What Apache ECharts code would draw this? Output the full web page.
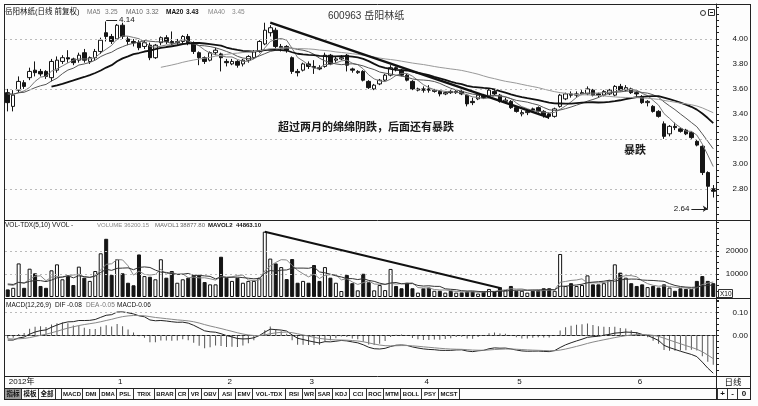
<!DOCTYPE html>
<html><head><meta charset="utf-8">
<script src="https://cdn.jsdelivr.net/npm/echarts/dist/echarts.min.js"></script>
<style>html,body{margin:0;padding:0;background:#fff}#c{width:758px;height:406px}</style>
</head><body><div id="c"></div>
<script>
// ---------- data ----------
const opens = [3.57,3.46,3.59,3.65,3.69,3.75,3.74,3.74,3.69,3.75, 3.82,3.85,3.84,3.83,3.89,3.82,3.85,3.90,4.05,4.02,
 4.00,4.11,4.00,3.98,3.97,3.94,3.95,3.85,3.97,4.01, 3.98,3.97,3.98,4.02,3.97,3.89,3.85,3.83,3.89,3.88,
 3.82,3.80,3.82,3.80,3.83,3.85,3.90,3.96,4.05,4.07, 3.93,3.94,3.85,3.74,3.75,3.80,3.78,3.77,3.78,3.87,
 3.83,3.84,3.87,3.76,3.73,3.74,3.66,3.60,3.64,3.67, 3.71,3.77,3.75,3.71,3.66,3.59,3.60,3.60,3.58,3.58,
 3.56,3.58,3.57,3.58,3.55,3.50,3.52,3.55,3.54,3.58, 3.55,3.50,3.50,3.45,3.40,3.41,3.44,3.45,3.42,3.40,
 3.38,3.46,3.52,3.56,3.55,3.56,3.56,3.59,3.56,3.55, 3.56,3.55,3.62,3.59,3.60,3.57,3.54,3.49,3.46,3.42,
 3.32,3.24,3.30,3.28,3.27,3.25,3.18,3.14,2.93,2.80];
const closes = [3.49,3.55,3.66,3.62,3.74,3.73,3.72,3.70,3.82,3.83, 3.85,3.84,3.81,3.87,3.83,3.85,3.90,3.99,4.02,3.98,
 4.11,4.02,3.98,3.97,3.93,3.97,3.85,3.95,4.01,3.98, 3.97,3.98,4.02,3.97,3.90,3.85,3.82,3.89,3.91,3.85,
 3.81,3.82,3.79,3.83,3.86,3.90,3.98,4.07,4.09,3.94, 3.94,3.91,3.74,3.73,3.80,3.78,3.77,3.76,3.87,3.80,
 3.84,3.85,3.79,3.75,3.74,3.67,3.61,3.63,3.67,3.71, 3.77,3.76,3.71,3.67,3.60,3.60,3.59,3.59,3.59,3.56,
 3.57,3.57,3.58,3.56,3.48,3.49,3.55,3.53,3.59,3.56, 3.50,3.51,3.45,3.42,3.41,3.42,3.43,3.42,3.39,3.38,
 3.44,3.55,3.56,3.55,3.56,3.57,3.60,3.55,3.55,3.58, 3.59,3.62,3.59,3.61,3.57,3.56,3.49,3.50,3.42,3.38,
 3.22,3.30,3.29,3.26,3.24,3.21,3.15,2.93,2.82,2.78];
const lows = [3.42,3.42,3.57,3.60,3.67,3.70,3.70,3.68,3.66,3.73, 3.80,3.81,3.79,3.81,3.81,3.80,3.83,3.88,3.98,3.96,
 3.99,4.00,3.95,3.94,3.91,3.92,3.83,3.84,3.95,3.96, 3.95,3.95,3.96,3.95,3.88,3.79,3.80,3.82,3.87,3.74,
 3.78,3.79,3.77,3.78,3.81,3.84,3.89,3.95,4.02,3.92, 3.90,3.89,3.72,3.70,3.74,3.76,3.72,3.75,3.77,3.79,
 3.81,3.83,3.74,3.73,3.72,3.66,3.60,3.59,3.63,3.66, 3.70,3.74,3.70,3.66,3.59,3.58,3.57,3.57,3.57,3.54,
 3.55,3.56,3.56,3.55,3.46,3.47,3.51,3.52,3.53,3.55, 3.49,3.48,3.44,3.41,3.38,3.39,3.41,3.41,3.37,3.36,
 3.37,3.45,3.51,3.53,3.53,3.55,3.55,3.54,3.53,3.54, 3.55,3.54,3.58,3.58,3.56,3.54,3.48,3.46,3.41,3.37,
 3.20,3.22,3.27,3.25,3.23,3.20,3.14,2.91,2.64,2.73];
const highs = [3.60,3.59,3.70,3.67,3.77,3.82,3.76,3.75,3.84,3.86, 3.87,3.91,3.85,3.89,3.92,3.86,3.92,4.01,4.14,4.04,
 4.12,4.13,4.02,4.00,3.99,3.99,3.97,3.96,4.02,4.03, 4.06,4.00,4.03,4.04,3.98,3.90,3.86,3.90,3.93,3.89,
 3.84,3.84,3.83,3.84,3.87,3.91,3.99,4.13,4.11,4.09, 3.96,3.95,3.86,3.76,3.81,3.82,3.83,3.79,3.89,3.88,
 3.86,3.87,3.88,3.77,3.75,3.75,3.67,3.64,3.68,3.72, 3.79,3.78,3.76,3.72,3.67,3.61,3.62,3.63,3.60,3.59,
 3.58,3.59,3.59,3.59,3.56,3.53,3.56,3.56,3.60,3.59, 3.56,3.53,3.51,3.46,3.43,3.43,3.45,3.46,3.43,3.41,
 3.45,3.56,3.57,3.58,3.58,3.59,3.62,3.60,3.57,3.59, 3.60,3.63,3.64,3.63,3.61,3.58,3.55,3.51,3.47,3.43,
 3.34,3.31,3.33,3.29,3.28,3.26,3.19,3.15,2.94,2.83];
const volumes = [3300,4000,14600,4000,12300,10300,4800,4000,11600,14200, 7700,9100,5200,13200,8400,7000,11300,19000,25300,9600,
 16400,10300,6200,5100,18500,9100,8800,7700,16400,8400, 11300,6200,7700,8400,9600,9600,6500,5500,5500,17500,
 8400,7000,8400,6200,7000,7000,8400,28400,16700,14600, 13000,7800,16500,6200,7000,6200,13900,7000,13000,8400,
 6200,2600,9600,6000,2900,10100,6400,2900,5200,3000, 12200,4800,3800,6200,3800,1900,3800,4100,2700,2700,
 1900,2700,1900,2000,2400,2400,1500,2400,3500,2400, 4300,3000,4800,2700,2700,1900,2700,3000,3800,3800,
 2700,18700,4800,6000,4800,5200,9400,5500,5500,6000, 7200,14200,10600,8400,6000,4800,5500,4300,4800,4100,
 5500,4100,2700,3800,3500,3500,7000,9100,7000,6000];
// estimated days before the visible window (only feed the moving averages / MACD)
const preCloses = [3.62,3.60,3.57,3.55,3.58,3.56,3.54,3.57,3.59,3.55,3.60];
const preVolumes = [6000,5200,7400,4800,6600,5400,8200,5000,4600];
const monthLabels = ['2012年','1','2','3','4','5','6'];
const monthStart = [0,20,40,55,76,93,115];
const priceLabels = [2.8,3.0,3.2,3.4,3.6,3.8,4.0];
const priceGuides = [4.0,3.6,3.2,2.8];
const volGuides = [10000,20000];
const macdGuides = [0,0.1];
const priceTrend = [[48,4.13],[99,3.37]];
const volTrend = [[47,28400],[90,3900]];
const highMark = [18,4.14];
const lowMark = [128,2.64];

// ---------- derived ----------
const cats = closes.map((_, i) => String(i));
const candle = closes.map((c, i) => [opens[i], c, lows[i], highs[i]]);
function ma(src, off, n) {
  return closes.map((_, i) => { const k = i + off; if (k < n - 1) return null;
    let s = 0; for (let j = k - n + 1; j <= k; j++) s += src[j]; return +(s / n).toFixed(4); });
}
const allC = preCloses.concat(closes), allV = preVolumes.concat(volumes);
const ma5 = ma(allC, preCloses.length, 5), ma10 = ma(allC, preCloses.length, 10),
      ma20 = ma(allC, preCloses.length, 20), ma40 = ma(allC, preCloses.length, 40);
const mv5 = ma(allV, preVolumes.length, 5), mv10 = ma(allV, preVolumes.length, 10);
let e12 = allC[0], e26 = allC[0], dea = 0; const difA = [], deaA = [], macdA = [];
allC.forEach((c, k) => {
  e12 = (2 * c + 11 * e12) / 13; e26 = (2 * c + 25 * e26) / 27;
  const dif = e12 - e26; dea = (2 * dif + 8 * dea) / 10;
  if (k >= preCloses.length) { difA.push(+dif.toFixed(4)); deaA.push(+dea.toFixed(4)); macdA.push(+(2 * (dif - dea)).toFixed(4)); }
});
const volData = volumes.map((v, i) => closes[i] >= opens[i]
  ? { value: v, itemStyle: { color: '#fff', borderColor: '#111', borderWidth: 1 } }
  : { value: v, itemStyle: { color: '#151515', borderColor: '#151515', borderWidth: 1 } });

// ---------- chart ----------
const FONT = '"Liberation Sans","Noto Sans CJK SC",sans-serif';
const guide = (v) => ({ yAxis: v, lineStyle: { type: [2, 3], color: '#bbb', width: 1 } });
const chart = echarts.init(document.getElementById('c'), null, { renderer: 'canvas' });
const txt = (x, y, t, o = {}) => ({ type: 'text', x, y, silent: true, z: 20,
  style: { text: t, fill: o.c || '#111', font: `${o.w || 'normal'} ${o.s || 8}px ${FONT}`, textAlign: o.a || 'left', textVerticalAlign: 'middle' } });
const ln = (x1, y1, x2, y2, c = '#222', w = 1) => ({ type: 'line', silent: true, z: 20, shape: { x1, y1, x2, y2 }, style: { stroke: c, lineWidth: w } });
const rc = (x, y, w, h, fill = 'none') => ({ type: 'rect', silent: true, z: 19, shape: { x, y, width: w, height: h }, style: { fill, stroke: '#333', lineWidth: 1 } });

const g = [];
// frame
g.push(ln(4, 4.5, 751, 4.5), ln(4.5, 4, 4.5, 400), ln(750.5, 4, 750.5, 400), ln(716.5, 4, 716.5, 400));
g.push(ln(4, 220.5, 751, 220.5), ln(4, 298.5, 751, 298.5), ln(4, 376.5, 751, 376.5), ln(4, 388.5, 751, 388.5), ln(4, 399.5, 751, 399.5));
// price header
g.push(txt(5, 12, '岳阳林纸(日线 前复权)', { s: 7.5 }));
g.push(txt(87, 12, 'MA5', { c: '#777', s: 6.5 }), txt(105, 12, '3.25', { c: '#777', s: 6.5 }));
g.push(txt(126, 12, 'MA10', { c: '#666', s: 6.5 }), txt(146, 12, '3.32', { c: '#666', s: 6.5 }));
g.push(txt(166, 12, 'MA20', { w: 'bold', s: 6.5 }), txt(186, 12, '3.43', { w: 'bold', s: 6.5 }));
g.push(txt(208, 12, 'MA40', { c: '#888', s: 6.5 }), txt(232, 12, '3.45', { c: '#888', s: 6.5 }));
g.push(txt(328, 16, '600963 岳阳林纸', { s: 10, c: '#333' }));
g.push({ type: 'circle', silent: true, z: 20, shape: { cx: 703, cy: 13, r: 2.5 }, style: { fill: 'none', stroke: '#333' } });
g.push(rc(708.5, 9.5, 6, 6), ln(710, 12.5, 713, 12.5));
// annotations
g.push(txt(366, 128, '超过两月的绵绵阴跌，后面还有暴跌', { s: 11, w: 'bold', a: 'center', c: '#1a1a1a' }));
g.push(txt(635, 151, '暴跌', { s: 11, w: 'bold', a: 'center', c: '#1a1a1a' }));
// volume header
g.push(txt(5, 225, 'VOL-TDX(5,10) VVOL -', { s: 6.5 }));
g.push(txt(97, 225, 'VOLUME', { s: 6, c: '#888' }), txt(124, 225, '36200.15', { s: 6, c: '#888' }));
g.push(txt(155, 225, 'MAVOL1', { s: 6, c: '#666' }), txt(180, 225, '38877.80', { s: 6, c: '#666' }));
g.push(txt(208, 225, 'MAVOL2', { s: 6, w: 'bold' }), txt(236, 225, '44863.10', { s: 6, w: 'bold' }));
g.push(rc(718.5, 289.5, 14, 8), txt(720, 294, 'X10', { s: 6.5 }));
// macd header
g.push(txt(6, 305, 'MACD(12,26,9)', { s: 6.5 }), txt(55, 305, 'DIF', { s: 6.5 }), txt(67, 305, '-0.08', { s: 6.5 }));
g.push(txt(86, 305, 'DEA', { s: 6.5, c: '#777' }), txt(100, 305, '-0.05', { s: 6.5, c: '#777' }));
g.push(txt(117, 305, 'MACD', { s: 6.5 }), txt(136, 305, '-0.06', { s: 6.5 }));
// bottom right
g.push(txt(733, 382.5, '日线', { s: 8.5, a: 'center' }));
g.push(rc(717.5, 388.5, 10, 11), txt(722.5, 394, '+', { s: 8, a: 'center', w: 'bold' }));
g.push(rc(727.5, 388.5, 10, 11), txt(732.5, 394, '-', { s: 8, a: 'center', w: 'bold' }));
g.push(rc(737.5, 388.5, 13, 11), txt(744, 394, '0', { s: 8, a: 'center', w: 'bold' }));
// toolbar tabs
const tabs = ['指标','模板','全部','MACD','DMI','DMA','PSL','TRIX','BRAR','CR','VR','OBV','ASI','EMV','VOL-TDX','RSI','WR','SAR','KDJ','CCI','ROC','MTM','BOLL','PSY','MCST'];
let tx = 4.5;
tabs.forEach((t, k) => {
  const cjk = /[\u4e00-\u9fff]/.test(t);
  const w = cjk ? 17 : t.length * 4 + 5;
  if (k === 3) tx += 6;
  g.push(rc(tx, 388.5, w, 11, k === 0 ? '#9a9a9a' : 'none'));
  g.push(txt(tx + w / 2, 394.5, t, { a: 'center', s: cjk ? 6.5 : 6, w: 'bold' }));
  tx += w;
});

const lblInt = (i) => monthStart.includes(i);
const option = {
  backgroundColor: '#fdfdfd',
  animation: false,
  graphic: g,
  grid: [
    { left: 5, right: 42, top: 4, height: 216 },
    { left: 5, right: 42, top: 222, height: 75 },
    { left: 5, right: 42, top: 300, height: 76 }
  ],
  xAxis: [
    { type: 'category', gridIndex: 0, data: cats, show: false },
    { type: 'category', gridIndex: 1, data: cats, show: false },
    { type: 'category', gridIndex: 2, data: cats,
      axisLine: { lineStyle: { color: '#222' } },
      axisTick: { interval: lblInt, alignWithLabel: true, length: 11, lineStyle: { color: '#222' } },
      axisLabel: { interval: lblInt, formatter: (v, i) => monthLabels[monthStart.indexOf(i)] || '', align: 'left', margin: 2,
        padding: [0, 0, 0, 1], fontSize: 8, color: '#111', fontFamily: FONT },
      splitLine: { show: false } }
  ],
  yAxis: [
    { type: 'value', gridIndex: 0, position: 'right', min: 2.55, max: 4.28, interval: 0.05,
      axisLine: { show: true, lineStyle: { color: '#222' } }, axisTick: { show: true, length: 3, lineStyle: { color: '#222' } },
      splitLine: { show: false },
      axisLabel: { fontSize: 8, color: '#111', fontFamily: FONT, align: 'right', margin: 32, showMinLabel: true, showMaxLabel: true,
        formatter: (v) => { const r = Math.round(v * 100); return priceLabels.some(p => Math.round(p * 100) === r) ? (r / 100).toFixed(2) : ''; } } },
    { type: 'value', gridIndex: 1, position: 'right', min: 0, max: 32600, interval: 2500,
      axisLine: { show: true, lineStyle: { color: '#222' } }, axisTick: { show: true, length: 3, lineStyle: { color: '#222' } },
      splitLine: { show: false },
      axisLabel: { fontSize: 8, color: '#111', fontFamily: FONT, align: 'right', margin: 32,
        formatter: (v) => volGuides.includes(Math.round(v)) ? String(Math.round(v)) : '' } },
    { type: 'value', gridIndex: 2, position: 'right', min: -0.175, max: 0.155, interval: 0.025,
      axisLine: { show: true, lineStyle: { color: '#222' } }, axisTick: { show: true, length: 3, lineStyle: { color: '#222' } },
      splitLine: { show: false },
      axisLabel: { fontSize: 8, color: '#111', fontFamily: FONT, align: 'right', margin: 32,
        formatter: (v) => { const r = Math.round(v * 1000); return (r === 0 || r === 100) ? (r / 1000).toFixed(2) : ''; } } }
  ],
  series: [
    { type: 'candlestick', xAxisIndex: 0, yAxisIndex: 0, data: candle, barWidth: 4,
      itemStyle: { color: '#ffffff', color0: '#151515', borderColor: '#151515', borderColor0: '#151515', borderWidth: 1 },
      markLine: { silent: true, symbol: ['none', 'none'], animation: false, label: { show: false },
        data: priceGuides.map(guide).concat([
          [{ coord: priceTrend[0], lineStyle: { color: '#111', width: 2.4, type: 'solid' } }, { coord: priceTrend[1] }],
          [{ coord: [highMark[0], highMark[1] + 0.01], lineStyle: { color: '#222', width: 1, type: 'solid' } },
           { coord: [highMark[0] + 2, highMark[1] + 0.01], label: { show: true, position: 'end', formatter: String(highMark[1].toFixed(2)), fontSize: 8, color: '#111', distance: 2 } }],
          [{ coord: [lowMark[0] - 3, lowMark[1]], symbol: 'none', lineStyle: { color: '#222', width: 1, type: 'solid' },
             label: { show: true, position: 'start', formatter: lowMark[1].toFixed(2), fontSize: 8, color: '#111', distance: 2 } },
           { coord: [lowMark[0], lowMark[1]], symbol: 'arrow', symbolSize: 5 }]
        ]) } },
    { type: 'line', name: 'MA5', xAxisIndex: 0, yAxisIndex: 0, data: ma5, showSymbol: false, lineStyle: { color: '#777', width: 1 } },
    { type: 'line', name: 'MA10', xAxisIndex: 0, yAxisIndex: 0, data: ma10, showSymbol: false, lineStyle: { color: '#555', width: 1 } },
    { type: 'line', name: 'MA20', xAxisIndex: 0, yAxisIndex: 0, data: ma20, showSymbol: false, lineStyle: { color: '#111', width: 1.8 } },
    { type: 'line', name: 'MA40', xAxisIndex: 0, yAxisIndex: 0, data: ma40, showSymbol: false, lineStyle: { color: '#999', width: 1 } },
    { type: 'bar', xAxisIndex: 1, yAxisIndex: 1, data: volData, barWidth: 4,
      markLine: { silent: true, symbol: ['none', 'none'], animation: false, label: { show: false },
        data: volGuides.map(guide).concat([[{ coord: volTrend[0], lineStyle: { color: '#111', width: 2, type: 'solid' } }, { coord: volTrend[1] }]]) } },
    { type: 'line', xAxisIndex: 1, yAxisIndex: 1, data: mv5, showSymbol: false, lineStyle: { color: '#888', width: 1 } },
    { type: 'line', xAxisIndex: 1, yAxisIndex: 1, data: mv10, showSymbol: false, lineStyle: { color: '#333', width: 1 } },
    { type: 'bar', xAxisIndex: 2, yAxisIndex: 2, data: macdA, barWidth: 1, itemStyle: { color: '#555' },
      markLine: { silent: true, symbol: ['none', 'none'], animation: false, label: { show: false },
        data: macdGuides.map(v => ({ yAxis: v, lineStyle: { type: [2, 3], color: v === 0 ? '#777' : '#bbb', width: 1 } })) } },
    { type: 'line', xAxisIndex: 2, yAxisIndex: 2, data: difA, showSymbol: false, lineStyle: { color: '#222', width: 1 } },
    { type: 'line', xAxisIndex: 2, yAxisIndex: 2, data: deaA, showSymbol: false, lineStyle: { color: '#888', width: 1 } }
  ]
};
chart.setOption(option);
</script></body></html>
